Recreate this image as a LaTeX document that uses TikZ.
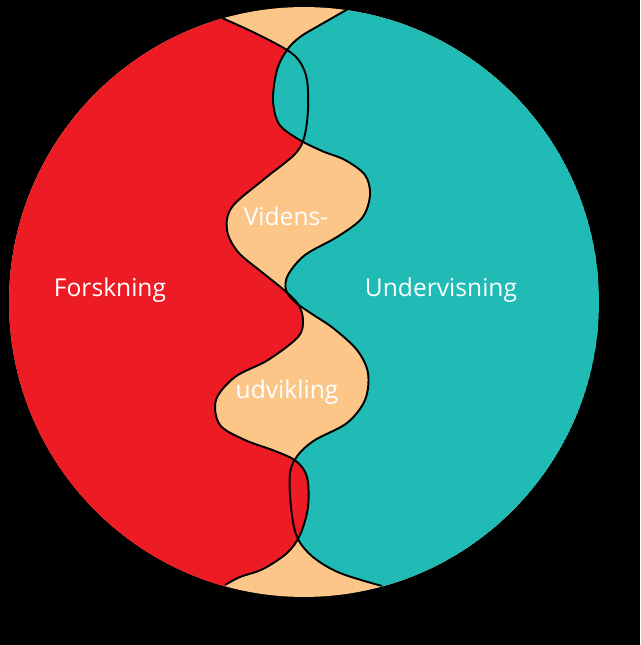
\documentclass[tikz,border=0pt]{standalone}
\usepackage{fontspec}
\setmainfont{Open Sans}

% the two borders, in pixels of the reference
\newcommand{\forskkant}{plot[smooth,tension=0.55] coordinates {(222,18) (255,33) (287,50) (300,62) (307,80) (308,110) (304,138) (294,155) (263,180) (232,207) (227,230) (238,252) (263,273) (284,290) (298,304) (303,320) (298,337) (268,360) (235,377) (216,400) (220,425) (245,440) (275,451) (296,461) (307,477) (308,507) (300,535) (287,553) (263,569) (240,577) (225,585)}}
\newcommand{\undervkant}{plot[smooth,tension=0.55] coordinates {(348,9) (320,25) (300,37) (287,50) (277,70) (273,100) (279,124) (298,139) (322,151) (345,160) (365,175) (370,195) (362,218) (337,237) (305,255) (288,275) (286,290) (295,302) (312,314) (333,328) (357,350) (368,373) (365,400) (347,423) (315,440) (298,455) (290,473) (291,507) (297,537) (313,557) (340,573) (382,586)}}

\begin{document}
\begin{tikzpicture}[x=0.02cm,y=-0.02cm,
    forsk/.style={fill={rgb,255:red,237;green,28;blue,36}},
    underv/.style={fill={rgb,255:red,31;green,187;blue,180}},
    videns/.style={fill={rgb,255:red,253;green,198;blue,137}},
    kant/.style={draw=black,line width=1.1pt},
    etiket/.style={text=white,font=\fontsize{14}{16}\selectfont,inner sep=0pt}]
\useasboundingbox (0,0) rectangle (640,645);
\fill[black] (0,0) rectangle (640,645);

\begin{scope}
  \clip (304,302) circle[radius=5.9cm];
  \fill[videns] (304,302) circle[radius=5.9cm];
  \fill[forsk] \forskkant -- (225,660) -- (-20,660) -- (-20,-20) -- (222,-20) -- cycle;
  \fill[underv] \undervkant -- (382,660) -- (660,660) -- (660,-20) -- (348,-20) -- cycle;
  % red lies over the teal at the bottom
  \begin{scope}
    \clip (0,400) rectangle (640,660);
    \fill[forsk] \forskkant -- (225,660) -- (-20,660) -- (-20,-20) -- (222,-20) -- cycle;
  \end{scope}
  \draw[kant] \forskkant;
  \draw[kant] \undervkant;
\end{scope}

\node[etiket] (forskning) at (110,290) {Forskning};
\node[etiket] (undervisning) at (441,290) {Undervisning};
\node[etiket] (videns) at (286,216) {Videns-};
\node[etiket] (udvikling) at (287,392) {udvikling};
\end{tikzpicture}
\end{document}
